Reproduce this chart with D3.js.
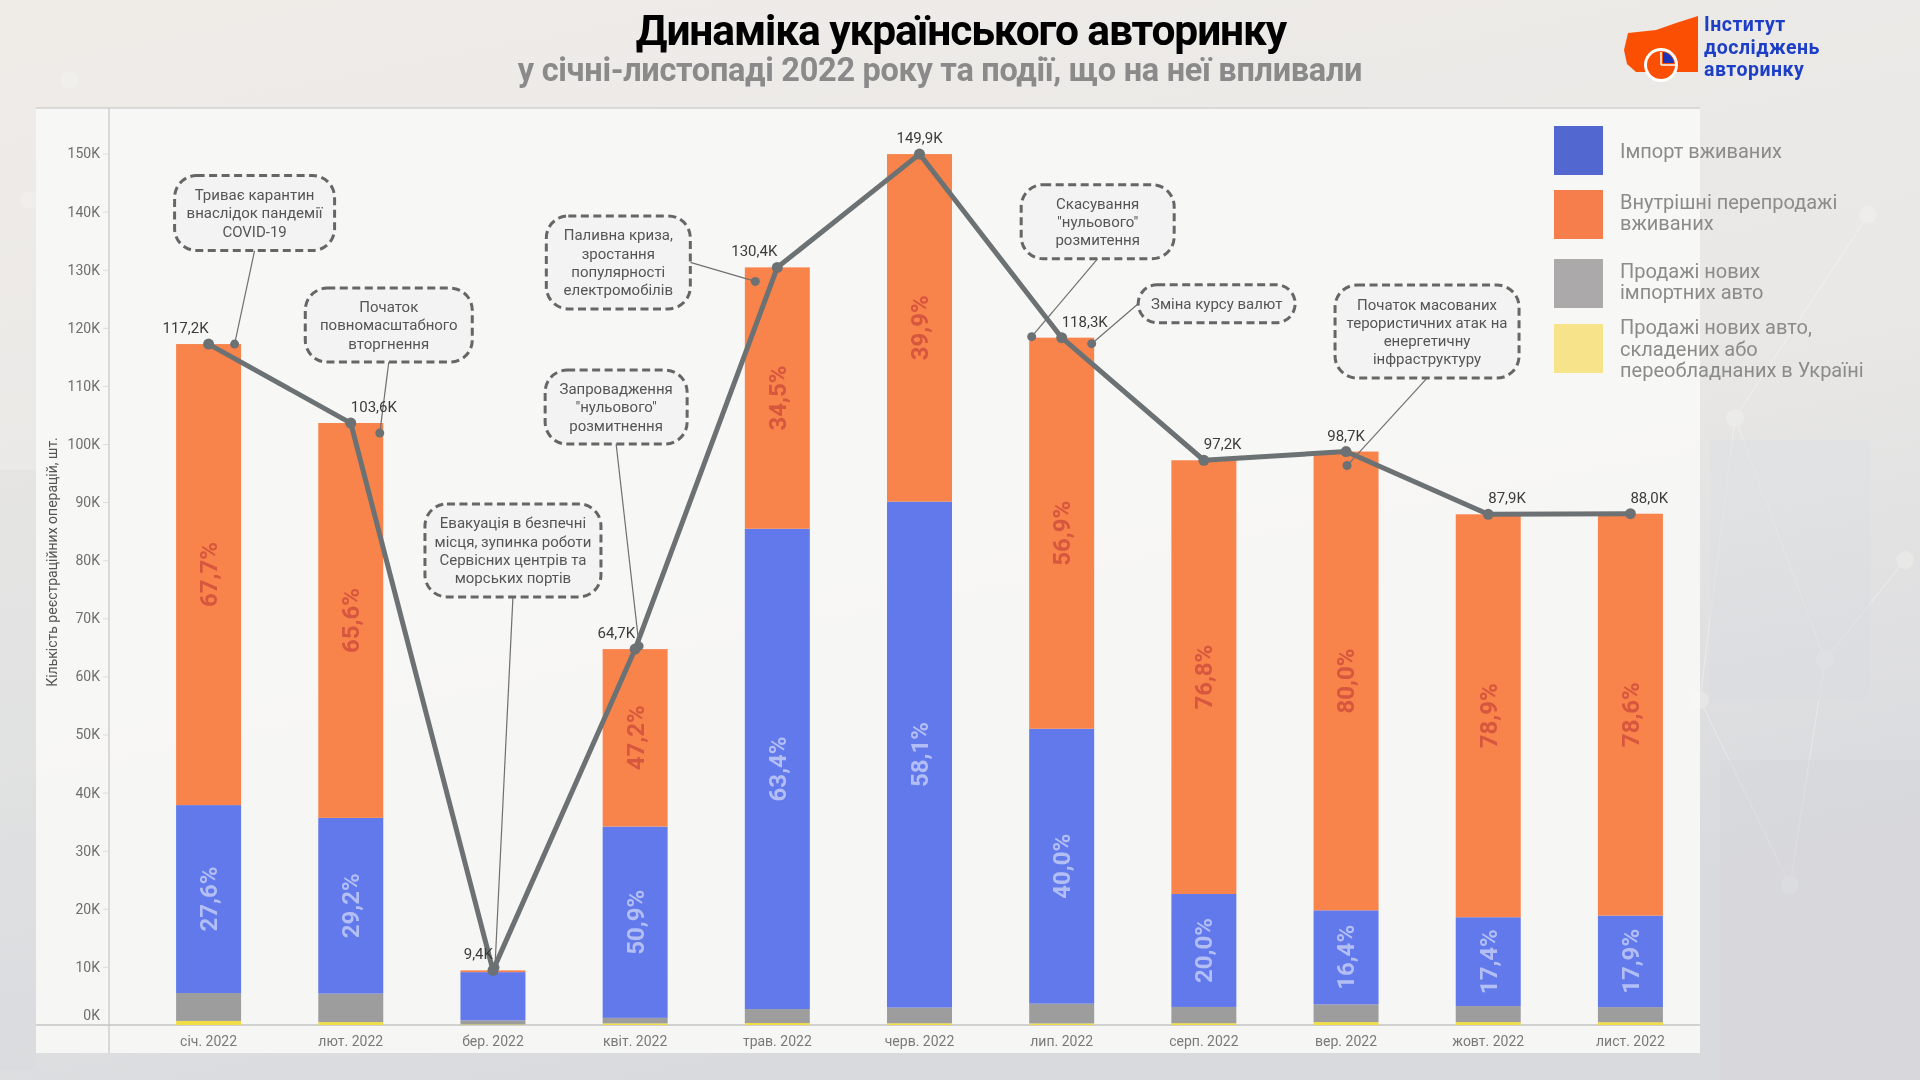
<!DOCTYPE html>
<html><head><meta charset="utf-8">
<script src="https://cdn.jsdelivr.net/npm/d3@7"></script>
<style>
html,body{margin:0;padding:0;width:1920px;height:1080px;overflow:hidden;background:#ecebe8;}
svg{display:block;font-family:Roboto,"Noto Sans",sans-serif;}
</style></head><body>
<svg id="chart" width="1920" height="1080"></svg>
<script>
// ---------- DATA (thousands of registrations) ----------
const months = ["січ. 2022","лют. 2022","бер. 2022","квіт. 2022","трав. 2022","черв. 2022","лип. 2022","серп. 2022","вер. 2022","жовт. 2022","лист. 2022"];
const totals = [117.2,103.6,9.4,64.7,130.4,149.9,118.3,97.2,98.7,87.9,88.0];
const totalLabels = ["117,2K","103,6K","9,4K","64,7K","130,4K","149,9K","118,3K","97,2K","98,7K","87,9K","88,0K"];
const usedImport  = [32.35,30.25,8.3,32.93,82.67,87.09,47.32,19.44,16.19,15.29,15.75];
const usedResale  = [79.35,67.96,0.3,30.54,44.99,59.81,67.31,74.65,78.96,69.35,69.17];
const newImported = [4.8,4.9,0.7,0.95,2.4,2.7,3.4,2.8,3.05,2.76,2.6];
const newDomestic = [0.7,0.5,0.1,0.28,0.34,0.3,0.27,0.31,0.5,0.5,0.48];
const importPctLabels = ["27,6%","29,2%","","50,9%","63,4%","58,1%","40,0%","20,0%","16,4%","17,4%","17,9%"];
const resalePctLabels = ["67,7%","65,6%","","47,2%","34,5%","39,9%","56,9%","76,8%","80,0%","78,9%","78,6%"];
const yTicks = [0,10,20,30,40,50,60,70,80,90,100,110,120,130,140,150];
const yTickLabels = ["0K","10K","20K","30K","40K","50K","60K","70K","80K","90K","100K","110K","120K","130K","140K","150K"];
const seriesNames = ["Імпорт вживаних","Внутрішні перепродажі вживаних","Продажі нових імпортних авто","Продажі нових авто, складених або переобладнаних в Україні"];
const legendLines = [["Імпорт вживаних"],["Внутрішні перепродажі","вживаних"],["Продажі нових","імпортних авто"],["Продажі нових авто,","складених або","переобладнаних в Україні"]];
const events = [
  {m:0, text:["Триває карантин","внаслідок пандемії","COVID-19"]},
  {m:1, text:["Початок","повномасштабного","вторгнення"]},
  {m:2, text:["Евакуація в безпечні","місця, зупинка роботи","Сервісних центрів та","морських портів"]},
  {m:3, text:["Запровадження","\"нульового\"","розмитнення"]},
  {m:4, text:["Паливна криза,","зростання","популярності","електромобілів"]},
  {m:6, text:["Скасування","\"нульового\"","розмитення"]},
  {m:6, text:["Зміна курсу валют"]},
  {m:8, text:["Початок масованих","терористичних атак на","енергетичну","інфраструктуру"]}
];
const totalLabelAnchor = ["end","start","end","end","end","middle","start","start","middle","start","start"];

// ---------- LAYOUT / STYLE ----------
// offsets of callout boxes & leader dots relative to (bar centre, bar top)
const eventLayout = [
  {dotDx:26, dotDy:0,  boxDx:46,   boxDy:-131, w:160, h:75, from:"bottom"},
  {dotDx:29, dotDy:10, boxDx:38,   boxDy:-98,  w:167, h:74, from:"bottom"},
  {dotDx:2,  dotDy:-3, boxDx:20,   boxDy:-420, w:176, h:93, from:"bottom"},
  {dotDx:4,  dotDy:-3, boxDx:-19,  boxDy:-242, w:142, h:74, from:"bottom"},
  {dotDx:-22,dotDy:14, boxDx:-159, boxDy:-5,   w:144, h:93, from:"right"},
  {dotDx:-30,dotDy:-1, boxDx:36,   boxDy:-116, w:153, h:74, from:"bottom"},
  {dotDx:30, dotDy:6,  boxDx:155,  boxDy:-34,  w:157, h:38, from:"left"},
  {dotDx:1,  dotDy:14, boxDx:81,   boxDy:-120, w:184, h:93, from:"bottom"}
];
const barColors = ["#f1de45","#9d9d9d","#6179ea","#f8834b"];      // bottom → top
const legendColors = ["#5267d0","#f67e4c","#aba9a9","#f6e38a"];
const lineColor = "#6c7273";

const svg = d3.select("#chart");
const defs = svg.append("defs");

// ---------- BACKGROUND ----------
const bg = defs.append("linearGradient").attr("id","bgGrad").attr("x1","0").attr("y1","0").attr("x2","0.35").attr("y2","1");
bg.append("stop").attr("offset","0").attr("stop-color","#efece8");
bg.append("stop").attr("offset","0.55").attr("stop-color","#e9e8e6");
bg.append("stop").attr("offset","1").attr("stop-color","#d9dade");
svg.append("rect").attr("width",1920).attr("height",1080).attr("fill","url(#bgGrad)");

// faint decorative network
const deco = svg.append("g").attr("opacity",0.3);
const nodes = [[1735,418],[1825,660],[1790,885],[1868,215],[1905,560],[1700,700],[70,80],[30,200]];
[[0,1],[1,2],[0,3],[1,4],[0,5],[2,5]].forEach(([a,b])=>{
  deco.append("line").attr("x1",nodes[a][0]).attr("y1",nodes[a][1]).attr("x2",nodes[b][0]).attr("y2",nodes[b][1])
    .attr("stroke","#ffffff").attr("stroke-width",1.2);
});
nodes.forEach(n=>deco.append("circle").attr("cx",n[0]).attr("cy",n[1]).attr("r",9).attr("fill","#f7f7f5"));
deco.append("rect").attr("x",1710).attr("y",440).attr("width",160).attr("height",260).attr("fill","#d6d9de").attr("opacity",0.6);
deco.append("rect").attr("x",1720).attr("y",760).attr("width",200).attr("height",320).attr("fill","#cfd2d7").attr("opacity",0.6);
deco.append("rect").attr("x",0).attr("y",470).attr("width",36).attr("height",600).attr("fill","#d3d5da").attr("opacity",0.8);

// plot panel
svg.append("rect").attr("x",36).attr("y",108).attr("width",1664).attr("height",945)
  .attr("fill","#f7f7f6").attr("opacity",0.93);
svg.append("line").attr("x1",36).attr("x2",1700).attr("y1",108).attr("y2",108).attr("stroke","#d2d0cc").attr("stroke-width",1.5);

// ---------- SCALES ----------
const x = d3.scaleBand().domain(months).range([137.5,1701.5]).paddingInner(0.543).paddingOuter(0.2715);
const y = d3.scaleLinear().domain([0,150]).range([1025,153.5]);
const cx = m => x(m) + x.bandwidth()/2;

// ---------- AXES ----------
svg.append("line").attr("x1",109).attr("x2",109).attr("y1",108).attr("y2",1053).attr("stroke","#cfcfcf").attr("stroke-width",1.5);
const yAxis = svg.append("g").attr("transform","translate(109,0)")
  .call(d3.axisLeft(y).tickValues(yTicks).tickFormat((d,i)=>yTickLabels[i]).tickSize(6).tickPadding(3));
yAxis.select(".domain").remove();
yAxis.selectAll(".tick line").attr("stroke","#dddddd");
yAxis.selectAll(".tick text").attr("fill","#6e6e6e").style("font-size","14px").style("font-family","Roboto");
yAxis.selectAll(".tick").filter(d=>d===0).select("text").attr("transform","translate(0,-10)");

svg.append("line").attr("x1",36).attr("x2",1700).attr("y1",1025).attr("y2",1025).attr("stroke","#c4c4c4").attr("stroke-width",1.5);
const xAxis = svg.append("g").attr("transform","translate(0,1025)")
  .call(d3.axisBottom(x).tickSize(0).tickPadding(11));
xAxis.select(".domain").remove();
xAxis.selectAll(".tick text").attr("fill","#7a7a7a").style("font-size","14px").style("font-family","Roboto");

svg.append("text").attr("transform","translate(57,562) rotate(-90)").attr("text-anchor","middle")
  .attr("fill","#555").style("font-size","14px").text("Кількість реєстраційних операцій, шт.");

// ---------- STACKED BARS ----------
const rows = months.map((m,i)=>({month:m, newDomestic:newDomestic[i], newImported:newImported[i], usedImport:usedImport[i], usedResale:usedResale[i]}));
const keys = ["newDomestic","newImported","usedImport","usedResale"];
const stacked = d3.stack().keys(keys)(rows);
const barG = svg.append("g");
stacked.forEach((s,k)=>{
  barG.selectAll(null).data(s).join("rect")
    .attr("x",d=>x(d.data.month)).attr("width",x.bandwidth())
    .attr("y",d=>y(d[1])).attr("height",d=>Math.max(0,y(d[0])-y(d[1])))
    .attr("fill",barColors[k]);
});

// percentage labels
const pctG = svg.append("g").style("font-size","24px").style("font-weight","700").attr("text-anchor","middle");
function pctLabel(serIdx, labels, color){
  stacked[serIdx].forEach((d,i)=>{
    if(!labels[i]) return;
    const yy = (y(d[0])+y(d[1]))/2, xx = cx(d.data.month);
    pctG.append("text").attr("transform",`translate(${xx},${yy}) rotate(-90)`).attr("dy","0.35em")
      .attr("fill",color).text(labels[i]);
  });
}
pctLabel(2, importPctLabels, "#b3bef5");
pctLabel(3, resalePctLabels, "#d6573e");

// ---------- CALLOUTS ----------
const noteG = svg.append("g");
events.forEach((ev,k)=>{
  const L = eventLayout[k];
  const m = months[ev.m];
  const bx = cx(m), by = y(totals[ev.m]);
  const dot = [bx+L.dotDx, by+L.dotDy];
  const bcx = bx+L.boxDx, bcy = by+L.boxDy;
  let start;
  if(L.from==="bottom") start=[bcx, bcy+L.h/2];
  else if(L.from==="right") start=[bcx+L.w/2, bcy];
  else start=[bcx-L.w/2, bcy];
  noteG.append("line").attr("x1",start[0]).attr("y1",start[1]).attr("x2",dot[0]).attr("y2",dot[1])
    .attr("stroke","#707070").attr("stroke-width",1.2);
  noteG.append("circle").attr("cx",dot[0]).attr("cy",dot[1]).attr("r",4.5).attr("fill",lineColor);
  noteG.append("rect").attr("x",bcx-L.w/2).attr("y",bcy-L.h/2).attr("width",L.w).attr("height",L.h)
    .attr("rx",Math.min(22,L.h/2)).attr("ry",Math.min(22,L.h/2))
    .attr("fill","#f3f3f3").attr("fill-opacity",0.9)
    .attr("stroke","#666").attr("stroke-width",3).attr("stroke-dasharray","8,4.5");
  const lh = 18.2;
  const t = noteG.append("text").attr("text-anchor","middle").attr("fill","#555").style("font-size","15px");
  ev.text.forEach((ln,j)=>{
    t.append("tspan").attr("x",bcx).attr("y",bcy + (j-(ev.text.length-1)/2)*lh).attr("dy","0.35em").text(ln);
  });
});

// ---------- TOTAL LINE ----------
const lineGen = d3.line().x((d,i)=>cx(months[i])).y(d=>y(d));
svg.append("path").datum(totals).attr("d",lineGen).attr("fill","none")
  .attr("stroke",lineColor).attr("stroke-width",5).attr("stroke-linejoin","round");
svg.append("g").selectAll("circle").data(totals).join("circle")
  .attr("cx",(d,i)=>cx(months[i])).attr("cy",d=>y(d)).attr("r",5.5).attr("fill",lineColor);
svg.append("g").selectAll("text").data(totals).join("text")
  .attr("x",(d,i)=>cx(months[i])).attr("y",d=>y(d)-11)
  .attr("text-anchor",(d,i)=>totalLabelAnchor[i])
  .attr("fill","#3c3c3c").style("font-size","15px").text((d,i)=>totalLabels[i]);

// ---------- LEGEND ----------
const lg = svg.append("g");
const legendTop = [126,190,259,324];
legendLines.forEach((lines,i)=>{
  lg.append("rect").attr("x",1554).attr("y",legendTop[i]).attr("width",49).attr("height",49).attr("fill",legendColors[i]);
  const t = lg.append("text").attr("fill","#8b8b8b").style("font-size","20px");
  const n = lines.length;
  const firstY = legendTop[i] + 24.5 - (n-1)*21.7/2 + (n===2?-2:0);
  lines.forEach((ln,j)=>{
    t.append("tspan").attr("x",1620).attr("y",firstY + j*21.7).attr("dy","0.35em").text(ln);
  });
});

// ---------- TITLE ----------
svg.append("text").attr("x",961).attr("y",45).attr("text-anchor","middle").attr("fill","#000")
  .style("font-size","42.5px").style("font-weight","700").style("letter-spacing","-1.1px")
  .text("Динаміка українського авторинку");
svg.append("text").attr("x",940).attr("y",81).attr("text-anchor","middle").attr("fill","#8a8a8a")
  .style("font-size","32.5px").style("font-weight","700").style("letter-spacing","-0.3px")
  .text("у січні-листопаді 2022 року та події, що на неї впливали");

// ---------- LOGO ----------
const logo = svg.append("g");
logo.append("path").attr("d","M1628,33 L1656,30 L1676,23 L1698,16 L1698,72 L1636,72 L1627,64 L1624,50 Z").attr("fill","#fb5004");
logo.append("circle").attr("cx",1661).attr("cy",65).attr("r",17).attr("fill","#ffffff");
logo.append("circle").attr("cx",1661).attr("cy",65).attr("r",14).attr("fill","#fb5004");
logo.append("path").attr("d","M1663,63 L1663,52 A12,12 0 0 1 1674,63 Z").attr("fill","#1c34b8");
logo.append("path").attr("d","M1661,65 L1661,52").attr("stroke","#fff").attr("stroke-width",1.5);
logo.append("path").attr("d","M1661,65 L1675,65").attr("stroke","#fff").attr("stroke-width",1.5);
const lt = logo.append("text").attr("fill","#1d3fc6").style("font-size","19.5px").style("font-weight","700").style("letter-spacing","0.5px");
["Інститут","досліджень","авторинку"].forEach((s,i)=>lt.append("tspan").attr("x",1704).attr("y",31+i*22.5).text(s));
</script>
</body></html>
